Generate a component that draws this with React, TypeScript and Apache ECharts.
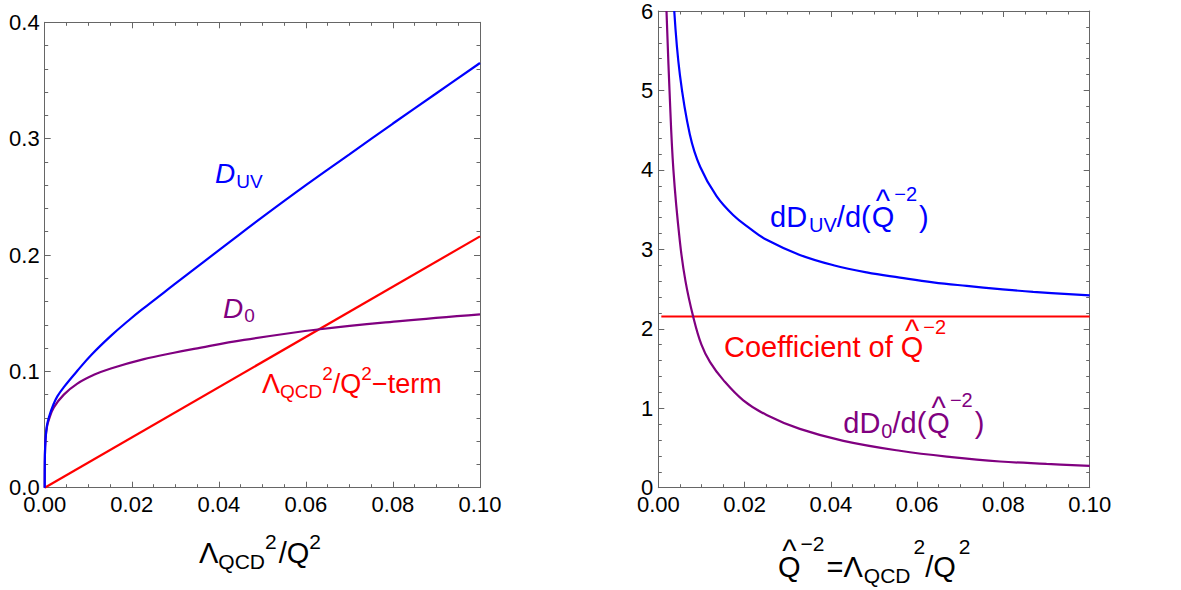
import React, { useEffect, useRef } from "react";
import * as echarts from "echarts";

// ---------- data ----------
const dUV: [number, number][] = [
  [0, 0], [0.00005, 0.028], [0.0002, 0.042], [0.0005, 0.053], [0.001, 0.061],
  [0.002, 0.0715], [0.0029, 0.0785], [0.0044, 0.0865], [0.0075, 0.1005], [0.0108, 0.1145],
  [0.0152, 0.1305], [0.0192, 0.1435], [0.0223, 0.153], [0.0297, 0.1745], [0.033, 0.184],
  [0.0426, 0.2115], [0.05, 0.2325], [0.06, 0.26], [0.07, 0.2865], [0.08, 0.313],
  [0.09, 0.339], [0.1, 0.365],
];
const d0: [number, number][] = [
  [0, 0], [0.00005, 0.028], [0.0002, 0.042], [0.0005, 0.052], [0.001, 0.059],
  [0.0021, 0.069], [0.0044, 0.08], [0.0075, 0.0895], [0.0113, 0.097], [0.0152, 0.1025],
  [0.0228, 0.1105], [0.0297, 0.116], [0.0343, 0.1193], [0.0458, 0.127], [0.0632, 0.1362],
  [0.0816, 0.1432], [0.1, 0.149],
];
const lambdaTerm: [number, number][] = [[0, 0], [0.1, 0.216]];

const dUVDeriv: [number, number][] = [
  [0.0037, 6.0], [0.005, 5.2], [0.0073, 4.45], [0.0097, 4.04], [0.0135, 3.67],
  [0.0174, 3.43], [0.0212, 3.265], [0.0251, 3.12], [0.0328, 2.93], [0.0406, 2.8],
  [0.0483, 2.71], [0.056, 2.645], [0.0637, 2.585], [0.0715, 2.54], [0.0792, 2.5],
  [0.0869, 2.465], [0.1, 2.42],
];
const d0Deriv: [number, number][] = [
  [0.0019, 6.0], [0.0026, 5.0], [0.0035, 4.0], [0.005, 3.1], [0.0063, 2.6],
  [0.0081, 2.15], [0.01, 1.8], [0.012, 1.58], [0.015, 1.36], [0.0197, 1.1],
  [0.0251, 0.915], [0.0328, 0.74], [0.0429, 0.59], [0.056, 0.465], [0.068, 0.385],
  [0.0792, 0.33], [0.09, 0.3], [0.1, 0.275],
];
const coefficient: [number, number][] = [[0.0007, 2.155], [0.1, 2.155]];

const FONT = '"Liberation Sans", Arial, Helvetica, sans-serif';
const AX = "#666";
const BLUE = "#0000ff";
const RED = "#ff0000";
const PURPLE = "#800080";

// ---------- text layout helper (sub/superscripts) ----------
let ctx: CanvasRenderingContext2D | null = null;
function measure(t: string, size: number, italic?: boolean) {
  if (!ctx) ctx = document.createElement("canvas").getContext("2d");
  if (!ctx) return t.length * size * 0.55;
  ctx.font = `${italic ? "italic " : ""}${size}px "Liberation Sans"`;
  return ctx.measureText(t).width;
}
type Seg = { t: string; s: number; dy?: number; it?: boolean; gap?: number; hat?: boolean };
function richText(x0: number, base: number, segs: Seg[], color: string) {
  const els: any[] = [];
  let x = x0;
  for (const g of segs) {
    x += g.gap || 0;
    const w = measure(g.t, g.s, g.it);
    const b = base + (g.dy || 0);
    els.push({
      type: "text", x, y: b - 0.3465 * g.s, silent: true,
      style: {
        text: g.t, fontSize: g.s, fontFamily: FONT,
        fontStyle: g.it ? "italic" : "normal", fill: color,
        align: "left", verticalAlign: "middle",
      },
    });
    if (g.hat) {
      const hs = g.s * 1.05;
      const hb = b - 0.54 * g.s;
      els.push({
        type: "text", x: x + w / 2, y: hb - 0.3465 * hs, silent: true,
        style: {
          text: "^", fontSize: hs, fontFamily: FONT, fill: color,
          align: "center", verticalAlign: "middle",
        },
      });
    }
    x += w;
  }
  return els;
}

function xAxis(gridIndex: number, position: string, labels: boolean) {
  return {
    type: "value", gridIndex, position, min: 0, max: 0.1, interval: 0.02,
    axisLine: { show: true, onZero: false, lineStyle: { color: AX, width: 1 } },
    axisTick: { show: true, inside: true, length: 6, lineStyle: { color: AX } },
    minorTick: { show: true, splitNumber: 4, length: 3.5, lineStyle: { color: AX } },
    splitLine: { show: false }, minorSplitLine: { show: false },
    axisLabel: labels
      ? { show: true, margin: 6, fontSize: 22, color: "#000", fontFamily: FONT,
          formatter: (v: number) => v.toFixed(2) }
      : { show: false },
  };
}
function yAxis(gridIndex: number, position: string, labels: boolean, max: number, interval: number, digits: number) {
  return {
    type: "value", gridIndex, position, min: 0, max, interval,
    axisLine: { show: true, onZero: false, lineStyle: { color: AX, width: 1 } },
    axisTick: { show: true, inside: true, length: 6, lineStyle: { color: AX } },
    minorTick: { show: true, splitNumber: 5, length: 3.5, lineStyle: { color: AX } },
    splitLine: { show: false }, minorSplitLine: { show: false },
    axisLabel: labels
      ? { show: true, margin: 5, fontSize: 22, color: "#000", fontFamily: FONT,
          formatter: (v: number) => v.toFixed(digits) }
      : { show: false },
  };
}
function line(data: [number, number][], xi: number, yi: number, color: string, smooth = 0.4) {
  return {
    type: "line", xAxisIndex: xi, yAxisIndex: yi, data, symbol: "none", showSymbol: false,
    smooth, clip: true, lineStyle: { color, width: 2.2 }, z: 3,
  };
}

export default function App() {
  const ref = useRef<HTMLDivElement>(null);
  useEffect(() => {
    if (!ref.current) return;
    const chart = echarts.init(ref.current, undefined, { renderer: "svg" });
    const graphics = [
      ...richText(215, 183.3, [{ t: "D", s: 28, it: true }, { t: "UV", s: 19, dy: 5, gap: 1 }], BLUE),
      ...richText(223, 318.3, [{ t: "D", s: 28, it: true }, { t: "0", s: 19, dy: 4, gap: 1 }], PURPLE),
      ...richText(262, 393.3, [
        { t: "Λ", s: 27 }, { t: "QCD", s: 19, dy: 5 }, { t: "2", s: 19, dy: -13 },
        { t: "/Q", s: 27 }, { t: "2", s: 19, dy: -13 }, { t: "−term", s: 27 },
      ], RED),
      ...richText(199, 563.3, [
        { t: "Λ", s: 29 }, { t: "QCD", s: 21, dy: 5 }, { t: "2", s: 21, dy: -15 },
        { t: "/Q", s: 29, gap: 2 }, { t: "2", s: 21, dy: -15 },
      ], "#000"),
      ...richText(770, 226.7, [
        { t: "dD", s: 29 }, { t: "UV", s: 20, dy: 5, gap: 2 }, { t: "/d(", s: 29 },
        { t: "Q", s: 29, hat: true, gap: 1 }, { t: "−2", s: 20, dy: -26 }, { t: ")", s: 29, gap: 2 },
      ], BLUE),
      ...richText(724, 356.7, [
        { t: "Coefficient of ", s: 29 }, { t: "Q", s: 29, hat: true }, { t: "−2", s: 20, dy: -23 },
      ], RED),
      ...richText(843.3, 433.3, [
        { t: "dD", s: 29 }, { t: "0", s: 20, dy: 5, gap: 1 }, { t: "/d(", s: 29 },
        { t: "Q", s: 29, hat: true, gap: 1 }, { t: "−2", s: 20, dy: -26 }, { t: ")", s: 29, gap: 2 },
      ], PURPLE),
      ...richText(778, 576.7, [
        { t: "Q", s: 29, hat: true }, { t: "−2", s: 21, dy: -26 }, { t: "=", s: 29, gap: 2 },
        { t: "Λ", s: 29 }, { t: "QCD", s: 21, dy: 6, gap: 1 }, { t: "2", s: 21, dy: -23, gap: 3 },
        { t: "/Q", s: 29 }, { t: "2", s: 21, dy: -23, gap: 3 },
      ], "#000"),
    ];
    chart.setOption({
      animation: false,
      textStyle: { fontFamily: FONT },
      grid: [
        { left: 44.7, top: 22.3, width: 435.3, height: 465.4 },
        { left: 658.3, top: 7.3, width: 431.4, height: 480.4 },
      ],
      xAxis: [xAxis(0, "bottom", true), xAxis(0, "top", false), xAxis(1, "bottom", true), xAxis(1, "top", false)],
      yAxis: [
        yAxis(0, "left", true, 0.4, 0.1, 1), yAxis(0, "right", false, 0.4, 0.1, 1),
        yAxis(1, "left", true, 6, 1, 0), yAxis(1, "right", false, 6, 1, 0),
      ],
      series: [
        line(lambdaTerm, 0, 0, RED, 0),
        line(d0, 0, 0, PURPLE),
        line(dUV, 0, 0, BLUE),
        line(coefficient, 2, 2, RED, 0),
        line(d0Deriv, 2, 2, PURPLE),
        line(dUVDeriv, 2, 2, BLUE),
      ],
      graphic: graphics,
    });
    return () => chart.dispose();
  }, []);
  return <div ref={ref} style={{ position: "absolute", left: 0, top: 0, width: 1181, height: 590 }} />;
}
